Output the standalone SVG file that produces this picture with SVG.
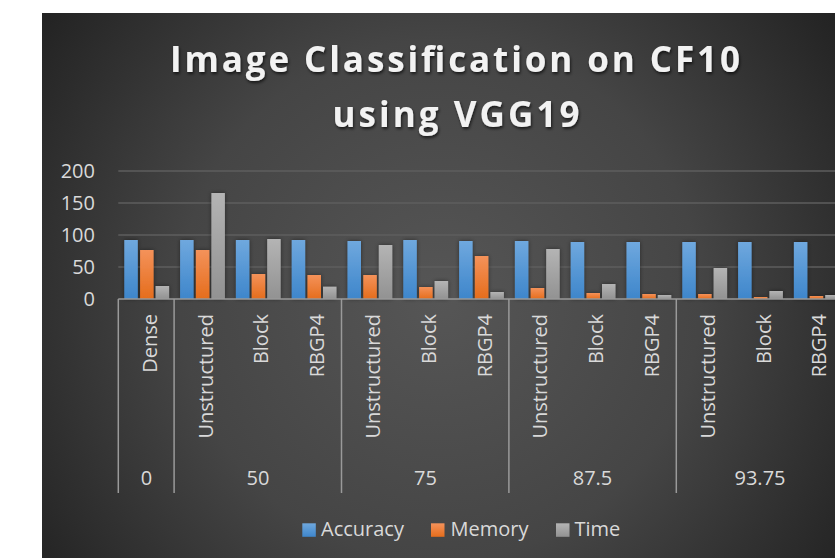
<svg xmlns="http://www.w3.org/2000/svg" width="835" height="558" viewBox="0 0 835 558">
<defs>
<radialGradient id="bg" gradientUnits="userSpaceOnUse" cx="440" cy="300" r="520">
<stop offset="0" stop-color="#565656"/>
<stop offset="0.5" stop-color="#454545"/>
<stop offset="1" stop-color="#1e1e1e"/>
</radialGradient>
<linearGradient id="gB" x1="0" y1="0" x2="0" y2="1"><stop offset="0" stop-color="#6fa8de"/><stop offset="1" stop-color="#3e86cb"/></linearGradient>
<linearGradient id="gO" x1="0" y1="0" x2="0" y2="1"><stop offset="0" stop-color="#f4925a"/><stop offset="1" stop-color="#e56d1c"/></linearGradient>
<linearGradient id="gG" x1="0" y1="0" x2="0" y2="1"><stop offset="0" stop-color="#b4b4b4"/><stop offset="1" stop-color="#929292"/></linearGradient>
<filter id="ts" x="-10%" y="-30%" width="120%" height="160%">
<feDropShadow dx="1" dy="2" stdDeviation="1.5" flood-color="#000" flood-opacity="0.65"/>
</filter>
<filter id="bs" x="-40%" y="-5%" width="180%" height="110%">
<feDropShadow dx="0" dy="0" stdDeviation="2" flood-color="#000" flood-opacity="0.45"/>
</filter>
</defs>
<style>
.t{font-family:"Open Sans","DejaVu Sans",sans-serif;font-weight:bold;font-size:35px;fill:#f2f2f2;text-anchor:middle}
.tk{font-family:"Open Sans","DejaVu Sans",sans-serif;font-size:20px;fill:#d9d9d9;text-anchor:end}
.cl{font-family:"Open Sans","DejaVu Sans",sans-serif;font-size:20px;fill:#d9d9d9;text-anchor:end}
.gl{font-family:"Open Sans","DejaVu Sans",sans-serif;font-size:20px;fill:#d9d9d9;text-anchor:middle}
.lg{font-family:"Open Sans","DejaVu Sans",sans-serif;font-size:20px;fill:#d9d9d9}
.grid{stroke:#5e5e5e;stroke-width:1.5}
.ax{stroke:#9a9a9a;stroke-width:1.5}
.sep{stroke:#9a9a9a;stroke-width:1.5}
.b{fill:url(#gB)}.o{fill:url(#gO)}.g{fill:url(#gG)}
</style>
<rect x="0" y="0" width="835" height="558" fill="#ffffff"/>
<rect x="42" y="13" width="793" height="545" fill="url(#bg)"/>
<g id="title" filter="url(#ts)">
<text class="t" x="455" y="72" textLength="570" lengthAdjust="spacing">Image Classification on CF10</text>
<text class="t" x="456" y="127" textLength="247" lengthAdjust="spacing">using VGG19</text>
</g>
<g id="gridlines">
<line class="grid" x1="118.3" y1="171" x2="835" y2="171"/>
<line class="grid" x1="118.3" y1="203" x2="835" y2="203"/>
<line class="grid" x1="118.3" y1="235" x2="835" y2="235"/>
<line class="grid" x1="118.3" y1="267" x2="835" y2="267"/>
</g>
<g id="y-axis">
<text class="tk" x="95" y="178">200</text>
<text class="tk" x="95" y="210">150</text>
<text class="tk" x="95" y="242">100</text>
<text class="tk" x="95" y="274">50</text>
<text class="tk" x="95" y="306">0</text>
</g>
<g id="bars" filter="url(#bs)">
<rect class="b" x="124.3" y="240" width="13.5" height="59"/><rect class="o" x="140.1" y="250" width="13.5" height="49"/><rect class="g" x="155.6" y="286" width="13.5" height="13"/>
<rect class="b" x="180.1" y="240" width="13.5" height="59"/><rect class="o" x="195.9" y="250" width="13.5" height="49"/><rect class="g" x="211.4" y="193" width="13.5" height="106"/>
<rect class="b" x="235.9" y="240" width="13.5" height="59"/><rect class="o" x="251.7" y="274" width="13.5" height="25"/><rect class="g" x="267.2" y="239" width="13.5" height="60"/>
<rect class="b" x="291.7" y="240" width="13.5" height="59"/><rect class="o" x="307.5" y="275" width="13.5" height="24"/><rect class="g" x="323" y="286.7" width="13.5" height="12.3"/>
<rect class="b" x="347.5" y="241" width="13.5" height="58"/><rect class="o" x="363.3" y="275" width="13.5" height="24"/><rect class="g" x="378.8" y="245" width="13.5" height="54"/>
<rect class="b" x="403.3" y="240" width="13.5" height="59"/><rect class="o" x="419.1" y="287" width="13.5" height="12"/><rect class="g" x="434.6" y="281" width="13.5" height="18"/>
<rect class="b" x="459.1" y="241" width="13.5" height="58"/><rect class="o" x="474.9" y="256" width="13.5" height="43"/><rect class="g" x="490.4" y="292" width="13.5" height="7"/>
<rect class="b" x="514.9" y="241" width="13.5" height="58"/><rect class="o" x="530.7" y="288" width="13.5" height="11"/><rect class="g" x="546.2" y="249" width="13.5" height="50"/>
<rect class="b" x="570.7" y="242" width="13.5" height="57"/><rect class="o" x="586.5" y="293" width="13.5" height="6"/><rect class="g" x="602" y="284" width="13.5" height="15"/>
<rect class="b" x="626.5" y="242" width="13.5" height="57"/><rect class="o" x="642.3" y="294" width="13.5" height="5"/><rect class="g" x="657.8" y="295" width="13.5" height="4"/>
<rect class="b" x="682.3" y="242" width="13.5" height="57"/><rect class="o" x="698.1" y="294" width="13.5" height="5"/><rect class="g" x="713.6" y="268" width="13.5" height="31"/>
<rect class="b" x="738.1" y="242" width="13.5" height="57"/><rect class="o" x="753.9" y="297" width="13.5" height="2"/><rect class="g" x="769.4" y="291" width="13.5" height="8"/>
<rect class="b" x="793.9" y="242" width="13.5" height="57"/><rect class="o" x="809.7" y="296" width="13.5" height="3"/><rect class="g" x="825.2" y="295" width="13.5" height="4"/>
</g>
<g id="x-axis">
<line class="ax" x1="118.3" y1="299" x2="835" y2="299"/>
<line class="sep" x1="118.3" y1="299" x2="118.3" y2="493"/>
<line class="sep" x1="174.1" y1="299" x2="174.1" y2="493"/>
<line class="sep" x1="341.5" y1="299" x2="341.5" y2="493"/>
<line class="sep" x1="508.9" y1="299" x2="508.9" y2="493"/>
<line class="sep" x1="676.3" y1="299" x2="676.3" y2="493"/>
</g>
<g id="category-labels">
<text class="cl" transform="translate(156.7,314) rotate(-90)">Dense</text>
<text class="cl" transform="translate(212.5,314) rotate(-90)">Unstructured</text>
<text class="cl" transform="translate(268.3,314) rotate(-90)">Block</text>
<text class="cl" transform="translate(324.1,314) rotate(-90)">RBGP4</text>
<text class="cl" transform="translate(379.9,314) rotate(-90)">Unstructured</text>
<text class="cl" transform="translate(435.7,314) rotate(-90)">Block</text>
<text class="cl" transform="translate(491.5,314) rotate(-90)">RBGP4</text>
<text class="cl" transform="translate(547.3,314) rotate(-90)">Unstructured</text>
<text class="cl" transform="translate(603.1,314) rotate(-90)">Block</text>
<text class="cl" transform="translate(658.9,314) rotate(-90)">RBGP4</text>
<text class="cl" transform="translate(714.7,314) rotate(-90)">Unstructured</text>
<text class="cl" transform="translate(770.5,314) rotate(-90)">Block</text>
<text class="cl" transform="translate(826.3,314) rotate(-90)">RBGP4</text>
</g>
<g id="group-labels">
<text class="gl" x="146.5" y="485">0</text>
<text class="gl" x="258" y="485">50</text>
<text class="gl" x="425.5" y="485">75</text>
<text class="gl" x="592.5" y="485">87.5</text>
<text class="gl" x="760" y="485">93.75</text>
</g>
<g id="legend">
<rect class="b" x="302.3" y="523.3" width="13.5" height="13.5"/>
<text class="lg" x="321" y="536">Accuracy</text>
<rect class="o" x="431" y="523.3" width="13.5" height="13.5"/>
<text class="lg" x="450.5" y="536">Memory</text>
<rect class="g" x="556" y="523.3" width="13.5" height="13.5"/>
<text class="lg" x="574.5" y="536">Time</text>
</g>
</svg>
